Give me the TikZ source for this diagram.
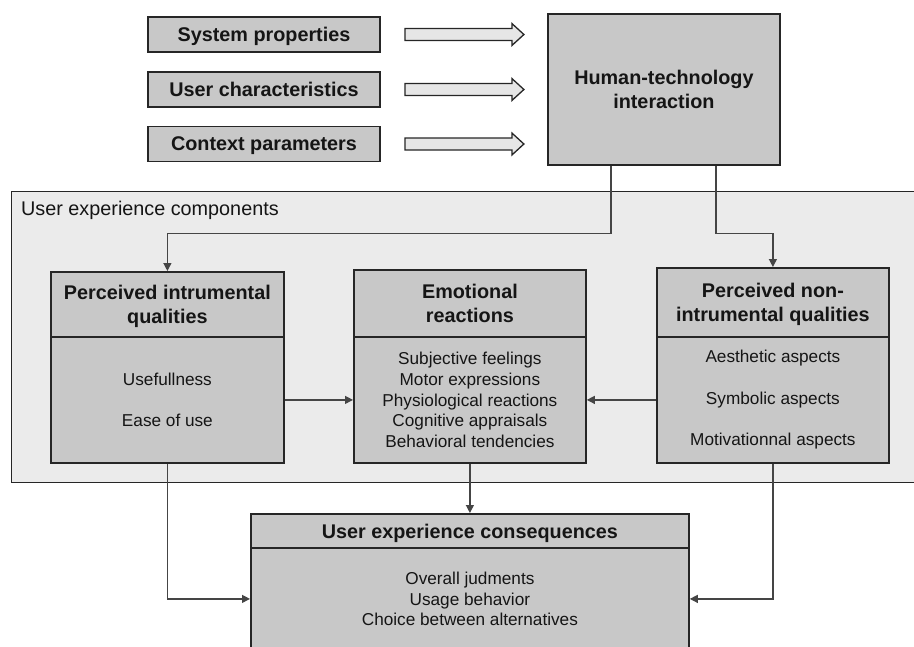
\documentclass[tikz,border=0pt]{standalone}
\usepackage{fontspec}
\setmainfont{Liberation Sans}
\usetikzlibrary{arrows.meta,calc}

\definecolor{boxfill}{HTML}{C8C8C8}
\definecolor{panelfill}{HTML}{EBEBEB}
\definecolor{arrowfill}{HTML}{E6E6E6}
\definecolor{edgeline}{HTML}{262626}
\definecolor{connline}{HTML}{454545}
\definecolor{txt}{HTML}{151515}

\newcommand{\headfont}{\fontsize{19.8}{24}\selectfont\bfseries}
\newcommand{\bodyfont}{\fontsize{17.2}{20.7}\selectfont}

\tikzset{
  x=1pt, y=-1pt,
  inputbox/.style={draw=edgeline, line width=1.8pt, fill=boxfill, text=txt,
    minimum width=232pt, minimum height=35pt, inner sep=0pt, font=\headfont,
    text depth=0pt},
  headbox/.style={draw=edgeline, line width=1.8pt, fill=boxfill, text=txt,
    anchor=north west, inner sep=0pt, align=center, font=\headfont,
    text depth=0pt},
  bodybox/.style={draw=edgeline, line width=1.8pt, fill=boxfill, text=txt,
    anchor=north west, inner sep=0pt, align=center, font=\bodyfont},
  conn/.style={draw=connline, line width=1.2pt,
    -{Triangle[length=8pt,width=8pt]}},
  hollow/.style={draw=edgeline, line width=1.3pt, fill=arrowfill, line join=miter},
}

\begin{document}
\begin{tikzpicture}
\useasboundingbox (0,0) rectangle (914,646);
\clip (0,0) rectangle (914,646);

% influencing factors
\node[inputbox] (sp) at (264,34.5) {System properties};
\node[inputbox] (uc) at (264,89.5) {User characteristics};
\node[inputbox] (cp) at (264,144) {Context parameters};

% interaction box
\node[headbox, minimum width=232pt, minimum height=151pt] (hti) at (547,13)
  {Human-technology\\interaction};

% block arrows towards the interaction
\foreach \n in {sp,uc,cp} {
  \draw[hollow] ($(\n.east)+(24,-6)$) -- ++(107,0) -- ++(0,-5) -- ++(12,11)
    -- ++(-12,11) -- ++(0,-5) -- ++(-107,0) -- cycle;
}

% panel of the components
\node[draw=edgeline, line width=1.4pt, fill=panelfill, anchor=north west,
  minimum width=940pt, minimum height=291pt, inner sep=0pt] (panel) at (11,191) {};
\node[anchor=base west, inner sep=0pt, text=txt, font=\fontsize{19.8}{24}\selectfont]
  (paneltitle) at (21,215) {User experience components};

% instrumental qualities
\node[headbox, minimum width=233pt, minimum height=65pt] (piqh) at (50,271)
  {Perceived intrumental\\qualities};
\node[bodybox, minimum width=233pt, minimum height=126pt] (piqb) at (50,336)
  {Usefullness\\[20.7pt]Ease of use};

% emotional reactions
\node[headbox, minimum width=232pt, minimum height=67pt] (emoh) at (353,269)
  {Emotional\\reactions};
\node[bodybox, minimum width=232pt, minimum height=126pt] (emob) at (353,336)
  {Subjective feelings\\Motor expressions\\Physiological reactions\\Cognitive appraisals\\Behavioral tendencies};

% non-instrumental qualities
\node[headbox, minimum width=232pt, minimum height=69pt] (pniqh) at (656,267)
  {Perceived non-\\intrumental qualities};
\node[bodybox, minimum width=232pt, minimum height=126pt] (pniqb) at (656,336)
  {Aesthetic aspects\\[20.7pt]Symbolic aspects\\[20.7pt]Motivationnal aspects};

% consequences
\node[headbox, minimum width=438pt, minimum height=34pt] (uxch) at (250,513)
  {User experience consequences};
\node[bodybox, minimum width=438pt, minimum height=102pt] (uxcb) at (250,547)
  {Overall judments\\Usage behavior\\Choice between alternatives};

% connectors
\draw[conn] ($(hti.south west)+(64,0)$) -- ++(0,68) -| (piqh.north);
\draw[conn] ($(hti.south west)+(169,0)$) -- ++(0,68) -| (pniqh.north);
\draw[conn] (piqb.east) -- (emob.west);
\draw[conn] (pniqb.west) -- (emob.east);
\draw[conn] (emob.south) -- (uxch.north);
\draw[conn] (piqb.south) |- (uxcb.west);
\draw[conn] (pniqb.south) |- (uxcb.east);
\end{tikzpicture}
\end{document}
